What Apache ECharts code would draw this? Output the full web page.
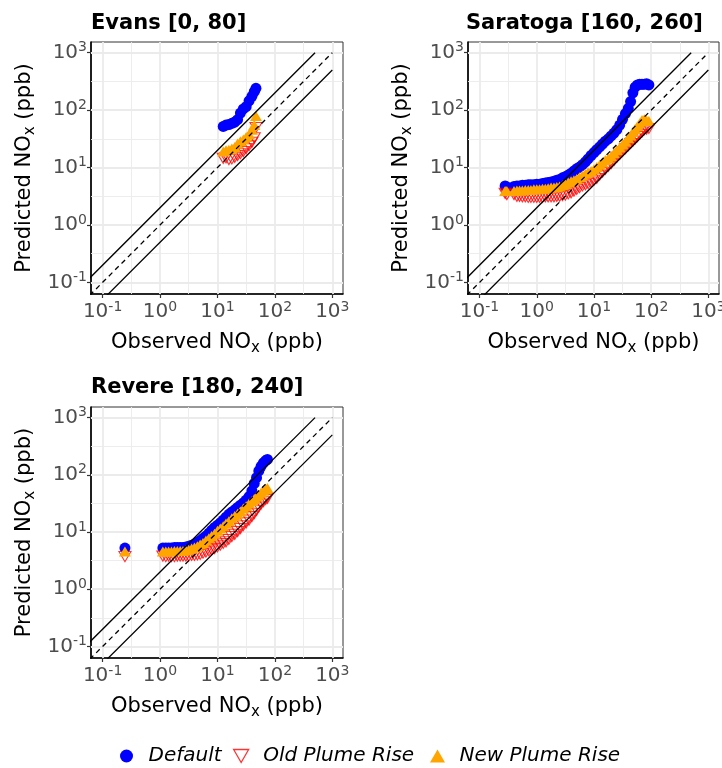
<!DOCTYPE html>
<html><head><meta charset="utf-8">
<script src="https://cdn.jsdelivr.net/npm/echarts@6/dist/echarts.min.js"></script>
<style>html,body{margin:0;padding:0;background:#fff}#c{width:722px;height:768px}</style>
</head><body><div id="c"></div>
<script>
// ---------------- data ----------------
const panelTitles = ['Evans [0, 80]', 'Saratoga [160, 260]', 'Revere [180, 240]'];
const seriesNames = ['Default', 'Old Plume Rise', 'New Plume Rise'];
const tickExponents = [-1, 0, 1, 2, 3];
const minorExponents = [-0.5, 0.5, 1.5, 2.5];
const refRatios = [2, 1, 0.5];
const refLimit = 1000;

// Evans (ppb), quantile pairs
const evansObs     = [12.6, 14.1, 15.8, 17.8, 20.0, 22.4, 25.1, 28.2, 31.6, 35.5, 39.8, 43.7, 46.8];
const evansDefault = [52, 55, 56, 59, 62, 68, 89, 105, 115, 145, 174, 209, 240];
const evansOld     = [14.5, 14.8, 13.8, 14.1, 15.1, 16.2, 17.4, 19.0, 21.4, 24.0, 27.5, 33.0, 50.0];
const evansNew     = [19.0, 20.0, 20.4, 21.4, 22.9, 26.3, 28.8, 30.9, 33.9, 38.0, 45.7, 55.0, 79.0];

// Saratoga (ppb)
const saratogaObs = [0.28, 0.30, 0.40, 0.45, 0.50, 0.56, 0.63, 0.71, 0.79, 0.89,
  1.0, 1.12, 1.26, 1.41, 1.58, 1.78, 2.0, 2.24, 2.51, 2.82,
  3.16, 3.55, 3.98, 4.47, 5.0, 5.6, 6.3, 7.1, 7.9, 8.9,
  10, 11.2, 12.6, 14.1, 15.8, 17.8, 20, 22.4, 25.1, 28.2,
  31.6, 35.5, 39.8, 43.7, 47.9, 52.5, 57.5, 63.1, 69.2, 75.9,
  83.2, 91.2];
const saratogaDefault = [4.79, 4.57, 4.68, 4.79, 4.79, 4.90, 4.90, 5.01, 5.01, 5.01,
  5.13, 5.13, 5.25, 5.37, 5.50, 5.62, 5.75, 6.03, 6.17, 6.61,
  6.92, 7.41, 7.94, 8.71, 9.55, 10.2, 11.2, 12.6, 14.1, 16.2,
  18.2, 20.4, 22.9, 25.7, 28.8, 31.6, 35.5, 39.8, 45.7, 55.0,
  69.2, 87.1, 107, 141, 200, 251, 275, 282, 282, 282,
  288, 275];
const saratogaOld = [3.55, 3.39, 3.39, 3.16, 3.16, 3.09, 3.09, 3.02, 3.02, 3.02,
  3.02, 3.02, 3.02, 3.09, 3.09, 3.09, 3.09, 3.16, 3.16, 3.24,
  3.31, 3.47, 3.63, 3.89, 4.17, 4.47, 4.79, 5.01, 5.25, 5.62,
  6.03, 6.46, 7.41, 8.32, 9.33, 10.5, 11.7, 13.2, 15.1, 17.0,
  19.1, 21.4, 24.0, 26.3, 28.8, 31.6, 34.7, 38.0, 41.7, 45.7,
  46.8, 47.9];
const saratogaNew = [3.89, 3.89, 3.89, 3.98, 3.98, 3.98, 4.07, 4.07, 4.07, 4.17,
  4.17, 4.17, 4.27, 4.27, 4.37, 4.47, 4.47, 4.57, 4.68, 4.90,
  5.13, 5.50, 5.75, 6.03, 6.31, 6.76, 7.24, 7.76, 8.32, 8.71,
  9.33, 10.2, 11.2, 12.3, 13.5, 14.5, 15.8, 17.8, 20.0, 22.4,
  25.1, 28.2, 32.4, 36.3, 41.7, 46.8, 52.5, 58.9, 67.6, 69.2,
  66.1, 64.6];

// Revere (ppb)
const revereObs = [0.245, 1.12, 1.26, 1.41, 1.58, 1.78, 2.0, 2.24, 2.51, 2.82,
  3.16, 3.55, 3.98, 4.47, 5.0, 5.6, 6.3, 7.1, 7.9, 8.9,
  10, 11.2, 12.6, 14.1, 15.8, 17.8, 20, 22.4, 25.1, 28.2,
  31.6, 35.5, 39.8, 43.7, 47.9, 52.5, 57.5, 63.1, 69.2, 74.1];
const revereDefault = [5.25, 5.25, 5.25, 5.25, 5.25, 5.37, 5.37, 5.37, 5.37, 5.50,
  5.62, 5.89, 6.17, 6.61, 7.08, 7.76, 8.51, 9.55, 10.7, 12.0,
  13.2, 14.5, 16.2, 18.2, 20.4, 22.4, 24.5, 26.9, 29.5, 32.4,
  36.3, 41.7, 52.5, 70.8, 89.1, 117, 141, 162, 178, 186];
const revereOld = [3.72, 3.80, 3.72, 3.80, 3.72, 3.72, 3.80, 3.80, 3.80, 3.80,
  3.80, 3.89, 3.89, 3.98, 4.07, 4.27, 4.47, 4.68, 4.90, 5.13,
  5.50, 5.89, 6.31, 6.76, 7.41, 8.32, 9.12, 10.2, 11.5, 12.9,
  14.5, 16.2, 18.6, 20.9, 24.0, 27.5, 30.9, 33.9, 37.2, 38.9];
const revereNew = [4.57, 4.57, 4.57, 4.57, 4.57, 4.68, 4.68, 4.68, 4.68, 4.79,
  4.90, 5.13, 5.37, 5.62, 6.03, 6.46, 7.08, 7.76, 8.51, 9.33,
  10.5, 11.5, 12.6, 14.1, 15.5, 17.4, 19.1, 20.9, 22.9, 25.7,
  28.2, 31.6, 34.7, 38.0, 41.7, 44.7, 49.0, 52.5, 56.2, 58.9];

const panels = [
  {obs: evansObs, preds: [evansDefault, evansOld, evansNew]},
  {obs: saratogaObs, preds: [saratogaDefault, saratogaOld, saratogaNew]},
  {obs: revereObs, preds: [revereDefault, revereOld, revereNew]}
];

// ---------------- styling / layout ----------------
const FONT = 'DejaVu Sans';
const colors = ['#0000FF', '#FF0000', '#FFA500'];
const TRI_DOWN = 'path://M0,0L10,0L5,8.66Z';
const TRI_UP = 'path://M5,0L10,8.66L0,8.66Z';
const AX_MIN = -1.202, AX_MAX = 3.186;
const grids = [
  {left: 91, top: 42, width: 252, height: 252},
  {left: 468, top: 42, width: 251, height: 252},
  {left: 91, top: 407, width: 252, height: 251}
];
const titlePos = [{left: 91, top: 13}, {left: 466, top: 13}, {left: 91, top: 377}];

const L = Math.log10;
const labelRich = {
  b: {fontSize: 20, color: '#4D4D4D', fontFamily: FONT, lineHeight: 24},
  s: {fontSize: 14, color: '#4D4D4D', fontFamily: FONT, verticalAlign: 'top', lineHeight: 14}
};
const nameRich = {
  n: {fontSize: 21, color: '#000', fontFamily: FONT, lineHeight: 26},
  sub: {fontSize: 15, color: '#000', fontFamily: FONT, verticalAlign: 'bottom', lineHeight: 16}
};

function makeAxis(p, isX) {
  return {
    type: 'value', gridIndex: p, min: AX_MIN, max: AX_MAX,
    name: isX ? '{n|Observed NO}{sub|x}{n| (ppb)}' : '{n|Predicted NO}{sub|x}{n| (ppb)}',
    nameLocation: 'middle',
    nameGap: isX ? 36 : 53,
    nameTextStyle: {rich: nameRich},
    axisLine: {show: true, onZero: false, lineStyle: {color: '#000', width: 1.6}},
    axisTick: {show: true, customValues: tickExponents, length: 4, lineStyle: {color: '#333', width: 1.2}},
    axisLabel: {show: true, customValues: tickExponents, margin: isX ? 6 : 4,
      formatter: v => '{b|10}{s|' + Math.round(v) + '}',
      rich: labelRich},
    splitLine: {show: false}
  };
}

const xAxes = [], yAxes = [], series = [];
panels.forEach((pn, p) => {
  xAxes.push(makeAxis(p, true));
  yAxes.push(makeAxis(p, false));
  // grid lines
  const gl = [];
  tickExponents.forEach(v => { gl.push({xAxis: v, lineStyle: {color: '#EBEBEB', width: 1.8, type: 'solid'}}); gl.push({yAxis: v, lineStyle: {color: '#EBEBEB', width: 1.8, type: 'solid'}}); });
  minorExponents.forEach(v => { gl.push({xAxis: v, lineStyle: {color: '#EBEBEB', width: 0.9, type: 'solid'}}); gl.push({yAxis: v, lineStyle: {color: '#EBEBEB', width: 0.9, type: 'solid'}}); });
  series.push({
    type: 'line', name: 'grid' + p, xAxisIndex: p, yAxisIndex: p, data: [], silent: true, z: 1,
    markLine: {silent: true, z: 1, symbol: ['none', 'none'], label: {show: false}, animation: false, data: gl}
  });
  const symbols = ['circle', TRI_DOWN, 'triangle'];
  const sizes = [11, [12, 10], [12, 10]];
  [0, 1, 2].forEach(k => {
    const pred = pn.preds[k];
    series.push({
      type: 'scatter', name: seriesNames[k], xAxisIndex: p, yAxisIndex: p, z: 3 + k,
      symbol: symbols[k], symbolSize: sizes[k], silent: true,
      itemStyle: k === 1 ? {color: 'rgba(0,0,0,0)', borderColor: colors[1], borderWidth: 1.1}
                         : {color: colors[k], opacity: 1},
      data: pn.obs.map((o, i) => [L(o), L(pred[i])])
    });
  });
  refRatios.forEach(r => {
    const x0 = 0.01, x1 = Math.min(refLimit, refLimit / r);
    series.push({
      type: 'line', name: 'ref' + p + '_' + r, xAxisIndex: p, yAxisIndex: p, z: 10, silent: true,
      showSymbol: false, symbol: 'none', clip: true,
      lineStyle: {color: '#000', width: 1.3, type: r === 1 ? [5, 4] : 'solid'},
      data: [[L(x0), L(r * x0)], [L(x1), L(r * x1)]]
    });
  });
});

const legendLefts = [120, 233, 430];
const legendIcons = ['circle', TRI_DOWN, TRI_UP];
const legends = seriesNames.map((nm, k) => ({
  show: true, left: legendLefts[k], top: 746, padding: 0, itemWidth: 16, itemHeight: 13,
  selectedMode: false, orient: 'horizontal',
  data: [{name: nm, icon: legendIcons[k],
    itemStyle: k === 1 ? {color: 'rgba(0,0,0,0)', borderColor: colors[1], borderWidth: 1.3} : {color: colors[k], borderWidth: 0}}],
  textStyle: {fontSize: 20, fontStyle: 'italic', color: '#000', fontFamily: FONT, padding: [0, 0, 0, 9]}
}));

const option = {
  animation: false,
  backgroundColor: '#fff',
  textStyle: {fontFamily: FONT},
  title: panelTitles.map((t, p) => ({
    text: t, left: titlePos[p].left, top: titlePos[p].top, padding: 0,
    textStyle: {fontSize: 21, fontWeight: 'bold', color: '#000', fontFamily: FONT}
  })),
  legend: legends,
  grid: grids.map(g => Object.assign({show: true, borderColor: '#333', borderWidth: 1, backgroundColor: '#fff', containLabel: false, outerBoundsMode: 'none'}, g)),
  xAxis: xAxes,
  yAxis: yAxes,
  series: series
};

const chart = echarts.init(document.getElementById('c'), null, {renderer: 'canvas'});
chart.setOption(option);
</script>
</body></html>
